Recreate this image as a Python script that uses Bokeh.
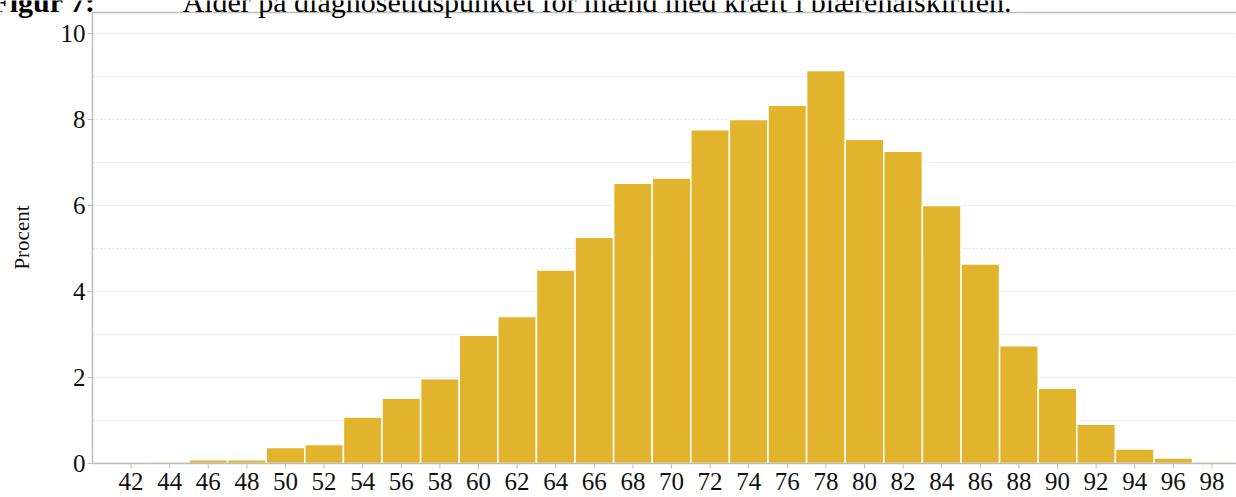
import math
from bokeh.plotting import figure
from bokeh.models import Range1d, Label, LabelSet, ColumnDataSource
from bokeh.embed import file_html
from bokeh.resources import INLINE

# ---- data ----
ages = list(range(42, 100, 2))
age_labels = [str(a) for a in ages]
percent = [0.0, 0.04, 0.09, 0.09, 0.37, 0.44, 1.08, 1.52, 1.97, 2.98,
           3.42, 4.50, 5.26, 6.52, 6.64, 7.76, 8.00, 8.33, 9.14, 7.54,
           7.26, 6.00, 4.64, 2.74, 1.75, 0.91, 0.34, 0.13, 0.04]
y_ticks = [0, 2, 4, 6, 8, 10]
y_tick_labels = ["0", "2", "4", "6", "8", "10"]
grid_ticks = [1, 2, 3, 4, 5, 6, 7, 8, 9, 10]
fig_label = "Figur 7:"
title_text = "Alder på diagnosetidspunktet for mænd med kræft i blærehalskirtlen."
y_label = "Procent"

# ---- layout / style ----
SERIF = "Liberation Serif"
BAR = "#E2B42D"
AXIS = "#BDBDBD"
TXT = "#111111"
W, H = 1236, 497
PX_X = 19.3          # px per year
PX_Y = 43.0          # px per percent
AXIS_X = 40.0        # value where the y axis sits
LEFT_PX = 92         # y axis position on the canvas
BASE_PX = 463        # x axis position on the canvas
x_start = AXIS_X - LEFT_PX / PX_X
x_end = x_start + W / PX_X
y_start = -(H - BASE_PX) / PX_Y
y_end = BASE_PX / PX_Y
y_top = 10.49        # top border of the plot box


def px_x(px):
    return x_start + px / PX_X


def px_y(py):
    return (BASE_PX - py) / PX_Y


p = figure(width=W, height=H,
           x_range=Range1d(x_start, x_end), y_range=Range1d(y_start, y_end),
           output_backend="svg", toolbar_location=None,
           x_axis_location=None, y_axis_location=None,
           min_border_left=0, min_border_right=0,
           min_border_top=0, min_border_bottom=0,
           background_fill_color="white", border_fill_color="white")
p.outline_line_color = None
p.xgrid.grid_line_color = None
p.ygrid.grid_line_color = None

# dotted horizontal grid
p.segment(x0=[AXIS_X] * len(grid_ticks), y0=grid_ticks,
          x1=[x_end] * len(grid_ticks), y1=grid_ticks,
          line_color="#DADADA", line_dash="2 2", line_width=1)

# bars
p.vbar(x=ages, top=percent, width=2, fill_color=BAR,
       line_color="white", line_width=1.5)

# frame lines: left axis, bottom axis, top border
p.segment(x0=[AXIS_X, AXIS_X, AXIS_X], y0=[0, 0, y_top],
          x1=[AXIS_X, x_end, x_end], y1=[y_top, 0, y_top],
          line_color=AXIS, line_width=1.5)

# y ticks and labels
tick_x = 5 / PX_X
p.segment(x0=[AXIS_X - tick_x] * len(y_ticks), y0=y_ticks,
          x1=[AXIS_X] * len(y_ticks), y1=y_ticks,
          line_color=AXIS, line_width=1)
ysrc = ColumnDataSource(dict(x=[AXIS_X] * len(y_ticks), y=y_ticks, text=y_tick_labels))
p.add_layout(LabelSet(x="x", y="y", text="text", source=ysrc, x_offset=-7,
                      text_align="right", text_baseline="middle",
                      text_font=SERIF, text_font_size="25px", text_color=TXT))
p.add_layout(Label(x=px_x(21), y=px_y(237), text=y_label,
                   angle=math.pi / 2, text_align="center", text_baseline="middle",
                   text_font=SERIF, text_font_size="21px", text_color=TXT))

# x ticks and labels
tick_y = 5 / PX_Y
p.segment(x0=ages, y0=[0] * len(ages), x1=ages, y1=[-tick_y] * len(ages),
          line_color=AXIS, line_width=1)
xsrc = ColumnDataSource(dict(x=ages, y=[0] * len(ages), text=age_labels))
p.add_layout(LabelSet(x="x", y="y", text="text", source=xsrc, y_offset=-9,
                      text_align="center", text_baseline="top",
                      text_font=SERIF, text_font_size="25px", text_color=TXT))

# title, cropped at the top as in the source figure
p.add_layout(Label(x=px_x(95), y=px_y(1), text=fig_label,
                   text_align="right", text_baseline="alphabetic",
                   text_font=SERIF, text_font_size="30px",
                   text_font_style="bold", text_color="black"))
p.add_layout(Label(x=px_x(182), y=px_y(1), text=title_text,
                   text_align="left", text_baseline="alphabetic",
                   text_font=SERIF, text_font_size="30px", text_color="black"))

open("out.html", "w").write(file_html(p, INLINE))
